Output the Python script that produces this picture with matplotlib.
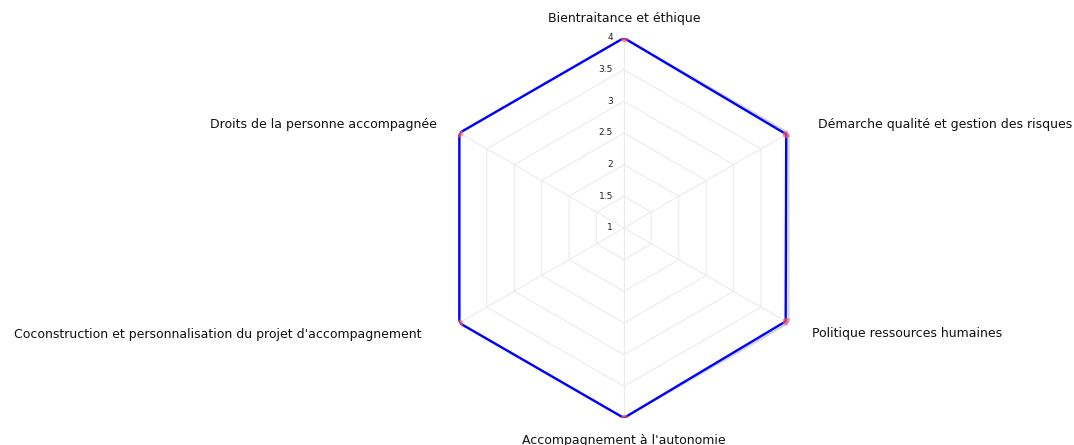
import numpy as np
import matplotlib
matplotlib.use("Agg")
import matplotlib.pyplot as plt

# categories, clockwise from the top
categories = [
    "Bientraitance et éthique",
    "Démarche qualité et gestion des risques",
    "Politique ressources humaines",
    "Accompagnement à l'autonomie",
    "Coconstruction et personnalisation du projet d'accompagnement",
    "Droits de la personne accompagnée",
]
scores = [4, 3.96, 3.95, 4, 4, 4]
r_ticks = [1, 1.5, 2, 2.5, 3, 3.5, 4]
tick_labels = ["1", "1.5", "2", "2.5", "3", "3.5", "4"]

# label offsets in pixels from each outer vertex: (dx, dy, ha)
label_offsets = [
    (0, 19, "center"),
    (30, 8, "left"),
    (24, -11, "left"),
    (0, -23, "center"),
    (-38, -12, "right"),
    (-22, 8, "right"),
]

n = len(categories)
theta = np.arange(n) * 2 * np.pi / n

fig = plt.figure(figsize=(10.74, 4.45), dpi=100)
ax = fig.add_axes([0.404, 0.0607, 0.3538, 0.854], projection="polar")
ax.set_theta_offset(np.pi / 2)
ax.set_theta_direction(-1)
ax.set_ylim(r_ticks[0], r_ticks[-1])
ax.grid(False)
ax.spines["polar"].set_visible(False)
ax.set_xticks([])
ax.set_yticks([])
ax.patch.set_alpha(0)

closed = np.append(theta, theta[0])

# hexagonal grid
for r in r_ticks[1:-1]:
    ax.plot(closed, [r] * (n + 1), color="#ececec", lw=0.8, zorder=1)
ax.plot(closed, [r_ticks[-1]] * (n + 1), color="#d4d4d4", lw=1.6, zorder=1)
for t in theta:
    ax.plot([t, t], [r_ticks[0], r_ticks[-1]], color="#ececec", lw=0.8, zorder=1)

# tick labels along the top axis
for r, lab in zip(r_ticks, tick_labels):
    ax.annotate(lab, xy=(0, r), xytext=(-11, 0), textcoords="offset pixels",
                ha="right", va="center", fontsize=6.5, color="#222222",
                annotation_clip=False)

# data
vals = np.append(scores, scores[0])
ax.plot(closed, vals, color="#0000ff", lw=1.7, zorder=3)
ax.plot(theta, scores, "o", color="#ff5a5a", alpha=0.65, ms=5.5, mec="none", zorder=4)

# category labels
for t, lab, (dx, dy, ha) in zip(theta, categories, label_offsets):
    ax.annotate(lab, xy=(t, r_ticks[-1]), xytext=(dx, dy), textcoords="offset pixels",
                ha=ha, va="center", fontsize=9, color="#111111",
                annotation_clip=False)

fig.savefig("out.png", dpi=100)
